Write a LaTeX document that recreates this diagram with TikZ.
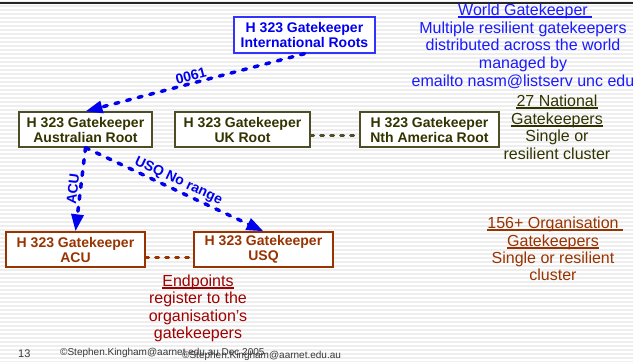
\documentclass[tikz,border=0pt]{standalone}
\usepackage{fontspec}
\setmainfont{Liberation Sans}
\usetikzlibrary{arrows.meta}

\definecolor{gkblue}{HTML}{0000EE}
\definecolor{gkboxblue}{HTML}{3333FF}
\definecolor{gklblue}{HTML}{1A1AFF}
\definecolor{gkolive}{HTML}{333300}
\definecolor{gkoliveline}{HTML}{4D4D26}
\definecolor{gkbrown}{HTML}{993300}
\definecolor{gkred}{HTML}{A00000}
\definecolor{gkstripe}{HTML}{EEEEEE}
\definecolor{gkfoot}{HTML}{383838}

\tikzset{
  gkbox/.style={draw, line width=1.4pt, fill=white, inner sep=0pt,
    minimum height=35pt, align=center,
    font=\fontsize{14}{15}\selectfont\bfseries},
  bluebox/.style={gkbox, draw=gkboxblue, text=gkblue},
  olivebox/.style={gkbox, draw=gkoliveline, text=gkolive},
  brownbox/.style={gkbox, draw=gkbrown, text=gkbrown},
  route/.style={gkblue, line width=3.5pt, line cap=round,
    dash pattern=on 4pt off 8pt,
    -{Triangle[length=17pt,width=12pt]}},
  routelabel/.style={text=gkblue, font=\fontsize{14}{15}\selectfont\bfseries,
    inner sep=1pt, sloped, above},
  peer/.style={line width=3pt, line cap=round, dash pattern=on 3pt off 7pt},
  note/.style={anchor=base, inner sep=0pt, font=\fontsize{16}{18}\selectfont},
  uline/.style={line width=1.1pt},
  foot/.style={anchor=base west, inner sep=0pt, text=gkfoot,
    font=\fontsize{10}{12}\selectfont}
}

\begin{document}
\begin{tikzpicture}[x=1pt,y=-1pt]
\useasboundingbox (0,0) rectangle (633,362);

% striped slide background
\fill[white] (0,0) rectangle (633,362);
\foreach \yy in {2,6,...,362}
  \draw[gkstripe, line width=1.3pt] (0,\yy) -- (633,\yy);
\draw[black!85, line width=1.5pt] (0,3) -- (633,3);

% gatekeeper boxes
\node[bluebox, minimum width=141pt, minimum height=36pt] (intl) at (304.5,35)
  {H 323 Gatekeeper\\International Roots};
\node[olivebox, minimum width=133pt] (aus) at (85.5,129.5)
  {H 323 Gatekeeper\\Australian Root};
\node[olivebox, minimum width=135pt] (uk) at (242.5,129.5)
  {H 323 Gatekeeper\\UK Root};
\node[olivebox, minimum width=139pt] (nam) at (429.5,129.5)
  {H 323 Gatekeeper\\Nth America Root};
\node[brownbox, minimum width=139pt] (acu) at (75.5,249.5)
  {H 323 Gatekeeper\\ACU};
\node[brownbox, minimum width=139pt] (usq) at (263.5,249.5)
  {H 323 Gatekeeper\\USQ};

% routing between gatekeepers
\draw[route] (intl.south) -- node[routelabel, pos=0.51] (l0061) {0061} (aus.north);
\draw[route] (aus.south) -- node[routelabel, pos=0.5] (lacu) {ACU} (acu.north);
\draw[route] (aus.south) -- node[routelabel, pos=0.5] (lusq) {USQ No range} (usq.north);

% peer links
\draw[peer, gkoliveline] ([yshift=-5.5pt]uk.east) -- ([yshift=-5.5pt]nam.west);
\draw[peer, gkbrown] ([yshift=-7.5pt]acu.east) -- ([yshift=-7.5pt]usq.west);

% world level
\begin{scope}[every node/.style={note, text=gklblue}]
\node (w1) at (523,15) {World Gatekeeper};
\node (w2) at (523,33) {Multiple resilient gatekeepers};
\node (w3) at (523,50.5) {distributed across the world};
\node (w4) at (523,68) {managed by};
\node (w5) at (523,86) {emailto nasm@listserv unc edu};
\end{scope}
\draw[uline, gklblue] ([yshift=-2pt]w1.base west) -- ([xshift=4pt,yshift=-2pt]w1.base east);

% national level
\begin{scope}[every node/.style={note, text=gkolive}]
\node (n1) at (557,106) {27 National};
\node (n2) at (557,124) {Gatekeepers};
\node (n3) at (557,141.5) {Single or};
\node (n4) at (557,159) {resilient cluster};
\end{scope}
\draw[uline, gkolive] ([yshift=-2pt]n1.base west) -- ([yshift=-2pt]n1.base east);
\draw[uline, gkolive] ([yshift=-2pt]n2.base west) -- ([yshift=-2pt]n2.base east);

% organisation level
\begin{scope}[every node/.style={note, text=gkbrown}]
\node (o1) at (553,228) {156+ Organisation};
\node (o2) at (553,246) {Gatekeepers};
\node (o3) at (553,263) {Single or resilient};
\node (o4) at (553,280.5) {cluster};
\end{scope}
\draw[uline, gkbrown] ([yshift=-2pt]o1.base west) -- ([xshift=4pt,yshift=-2pt]o1.base east);
\draw[uline, gkbrown] ([yshift=-2pt]o2.base west) -- ([yshift=-2pt]o2.base east);

% endpoints
\begin{scope}[every node/.style={note, text=gkred}]
\node (e1) at (198,286) {Endpoints};
\node (e2) at (198,303.5) {register to the};
\node (e3) at (198,321) {organisation’s};
\node (e4) at (198,338.5) {gatekeepers};
\end{scope}
\draw[uline, gkred] ([yshift=-2pt]e1.base west) -- ([yshift=-2pt]e1.base east);

% footer
\node[foot, font=\fontsize{11}{12}\selectfont] (page) at (18,357) {13};
\node[foot] (copy1) at (60,355) {©Stephen.Kingham@aarnet.edu.au Dec 2005};
\node[foot] (copy2) at (182,358.5) {©Stephen.Kingham@aarnet.edu.au};
\end{tikzpicture}
\end{document}
